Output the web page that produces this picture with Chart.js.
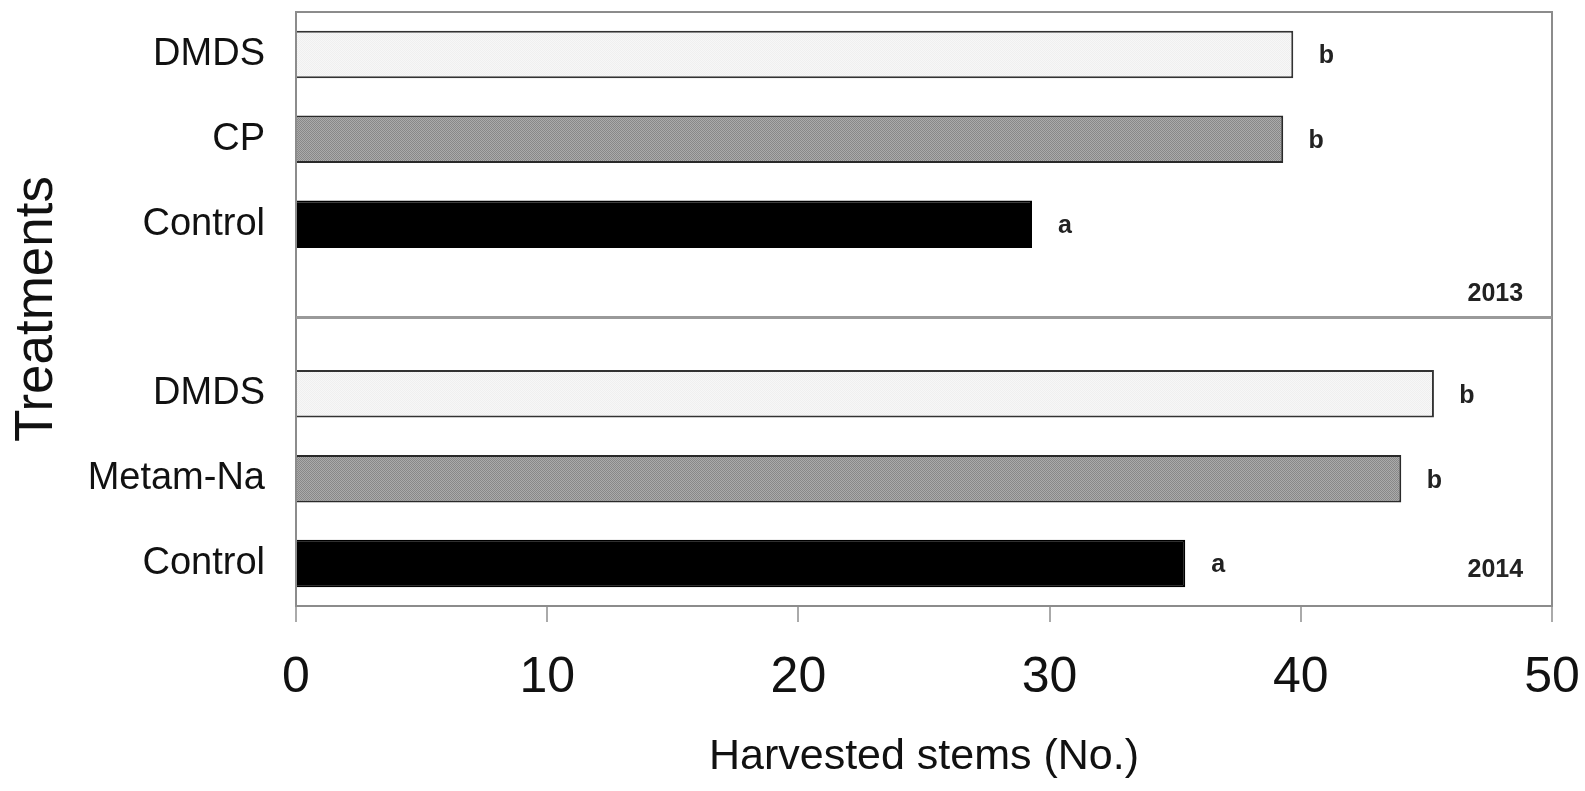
<!DOCTYPE html>
<html>
<head>
<meta charset="utf-8">
<script src="https://cdn.jsdelivr.net/npm/chart.js@4"></script>
<style>
  body { margin: 0; background: #fff; }
  #wrap { width: 1585px; height: 791px; position: relative; }
</style>
</head>
<body>
<div id="wrap"><canvas id="myChart"></canvas></div>
<script>
// data
const treatments = ["DMDS", "CP", "Control", "", "DMDS", "Metam-Na", "Control"];
const stems = [39.7, 39.3, 29.3, null, 45.3, 44.0, 35.4];
const letters = ["b", "b", "a", "", "b", "b", "a"];
const years = ["2013", "2014"];
const xTicks = [0, 10, 20, 30, 40, 50];

const font = "'Liberation Sans', Arial, sans-serif";

function makePattern(base, dot) {
  const p = document.createElement("canvas");
  p.width = 2;
  p.height = 2;
  const g = p.getContext("2d");
  g.fillStyle = base;
  g.fillRect(0, 0, 2, 2);
  g.fillStyle = dot;
  g.fillRect(0, 0, 1, 1);
  g.fillRect(1, 1, 1, 1);
  return g.createPattern(p, "repeat");
}

const lightFill = makePattern("#f7f7f7", "#efefef");
const grayFill = makePattern("#ababab", "#888888");
const fills = [lightFill, grayFill, "#000", null, lightFill, grayFill, "#000"];
const edges = ["#333", "#2a2a2a", "#000", null, "#333", "#2a2a2a", "#000"];

// frame, year divider, significance letters and year tags
const extras = {
  id: "extras",
  afterDatasetsDraw(chart) {
    const { ctx, chartArea: a, scales } = chart;
    const x = scales.x, y = scales.y;
    ctx.save();
    ctx.strokeStyle = "#8c8c8c";
    ctx.lineWidth = 2;
    ctx.strokeRect(a.left, a.top, a.right - a.left, a.bottom - a.top);

    const sepY = y.getPixelForValue(3.1);
    ctx.strokeStyle = "#9a9a9a";
    ctx.lineWidth = 3;
    ctx.beginPath();
    ctx.moveTo(a.left, sepY);
    ctx.lineTo(a.right, sepY);
    ctx.stroke();

    ctx.fillStyle = "#222";
    ctx.font = "bold 25px " + font;
    ctx.textAlign = "center";
    ctx.textBaseline = "middle";
    stems.forEach((v, i) => {
      if (v === null) return;
      ctx.fillText(letters[i], x.getPixelForValue(v) + 33, y.getPixelForValue(i) + 2);
    });

    ctx.textAlign = "right";
    ctx.fillText(years[0], x.getPixelForValue(48.85), y.getPixelForValue(2.82));
    ctx.fillText(years[1], x.getPixelForValue(48.85), y.getPixelForValue(6.08));
    ctx.restore();
  },
};

const ctx = document.getElementById("myChart");
new Chart(ctx, {
  type: "bar",
  data: {
    labels: treatments,
    datasets: [
      {
        data: stems,
        backgroundColor: fills,
        borderColor: edges,
        borderWidth: 2,
        borderSkipped: "start",
        categoryPercentage: 1,
        barPercentage: 0.56,
      },
    ],
  },
  options: {
    indexAxis: "y",
    responsive: true,
    maintainAspectRatio: false,
    animation: false,
    layout: { padding: { top: 12, right: 33, left: 0, bottom: 0 } },
    plugins: { legend: { display: false }, tooltip: { enabled: false } },
    scales: {
      x: {
        min: 0,
        max: 50,
        afterBuildTicks: (s) => { s.ticks = xTicks.map((v) => ({ value: v })); },
        afterFit: (s) => {
          s.height = 185;
          s.paddingLeft = 0;
          s.paddingRight = 0;
        },
        grid: { drawOnChartArea: false, tickLength: 16, color: "#aaa", lineWidth: 2 },
        border: { color: "#8c8c8c", width: 2 },
        ticks: { font: { family: font, size: 50 }, color: "#111", padding: 26 },
        title: {
          display: true,
          text: "Harvested stems (No.)",
          font: { family: font, size: 43 },
          color: "#111",
          padding: { top: 2, bottom: 8 },
        },
      },
      y: {
        afterFit: (s) => {
          s.width = 296;
          s.paddingTop = 0;
          s.paddingBottom = 0;
        },
        grid: { display: false, drawTicks: false },
        border: { color: "#8c8c8c", width: 2 },
        ticks: { font: { family: font, size: 38 }, color: "#111", padding: 31 },
        title: {
          display: true,
          text: "Treatments",
          font: { family: font, size: 53 },
          color: "#111",
          padding: { top: 6, bottom: 0 },
        },
      },
    },
  },
  plugins: [extras],
});
</script>
</body>
</html>
